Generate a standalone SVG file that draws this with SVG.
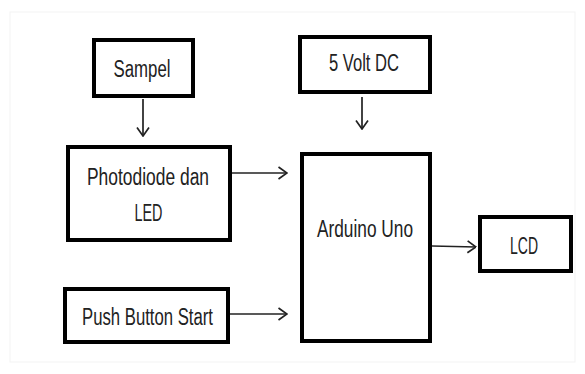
<svg xmlns="http://www.w3.org/2000/svg" width="585" height="374" viewBox="0 0 585 374">
<style>
.box{fill:#fff;stroke:#000;stroke-width:4}
.lbl{font-family:"Liberation Sans","Open Sans",sans-serif;font-size:23px;fill:#222;text-anchor:middle}
.conn{stroke:#222;stroke-width:1.7;fill:none}
</style>
<defs>
<marker id="ah" viewBox="0 0 10 14" refX="9.5" refY="7" markerWidth="10" markerHeight="14" markerUnits="userSpaceOnUse" orient="auto">
<path d="M1,1 L9.5,7 L1,13" fill="none" stroke="#222" stroke-width="1.7"/>
</marker>
</defs>
<rect x="0" y="0" width="585" height="374" fill="#fff"/>
<rect x="10" y="12" width="565" height="350" fill="none" stroke="#f3f3f3" stroke-width="1"/>
<g id="connectors">
<line class="conn" x1="143" y1="99" x2="143" y2="136" marker-end="url(#ah)"/>
<line class="conn" x1="362" y1="97" x2="362" y2="129" marker-end="url(#ah)"/>
<line class="conn" x1="232" y1="173" x2="287" y2="173" marker-end="url(#ah)"/>
<line class="conn" x1="230" y1="314" x2="287" y2="314" marker-end="url(#ah)"/>
<line class="conn" x1="432" y1="246" x2="476" y2="247" marker-end="url(#ah)"/>
</g>
<g id="sampel">
<rect class="box" x="94" y="40" width="99" height="56"/>
<text class="lbl" x="142" y="77" textLength="57" lengthAdjust="spacingAndGlyphs">Sampel</text>
</g>
<g id="volt">
<rect class="box" x="300" y="37" width="130" height="55"/>
<text class="lbl" x="364" y="71" textLength="70" lengthAdjust="spacingAndGlyphs">5 Volt DC</text>
</g>
<g id="photodiode">
<rect class="box" x="68" y="147" width="162" height="93"/>
<text class="lbl" x="148" y="185" textLength="122" lengthAdjust="spacingAndGlyphs">Photodiode dan</text>
<text class="lbl" x="148.5" y="221" textLength="28" lengthAdjust="spacingAndGlyphs">LED</text>
</g>
<g id="pushbutton">
<rect class="box" x="65" y="289" width="163" height="53"/>
<text class="lbl" x="147.5" y="325" textLength="131" lengthAdjust="spacingAndGlyphs">Push Button Start</text>
</g>
<g id="arduino">
<rect class="box" x="302" y="154" width="128" height="187"/>
<text class="lbl" x="365" y="237" textLength="96" lengthAdjust="spacingAndGlyphs">Arduino Uno</text>
</g>
<g id="lcd">
<rect class="box" x="480" y="217" width="91" height="54"/>
<text class="lbl" x="524" y="254" textLength="28" lengthAdjust="spacingAndGlyphs">LCD</text>
</g>
</svg>
